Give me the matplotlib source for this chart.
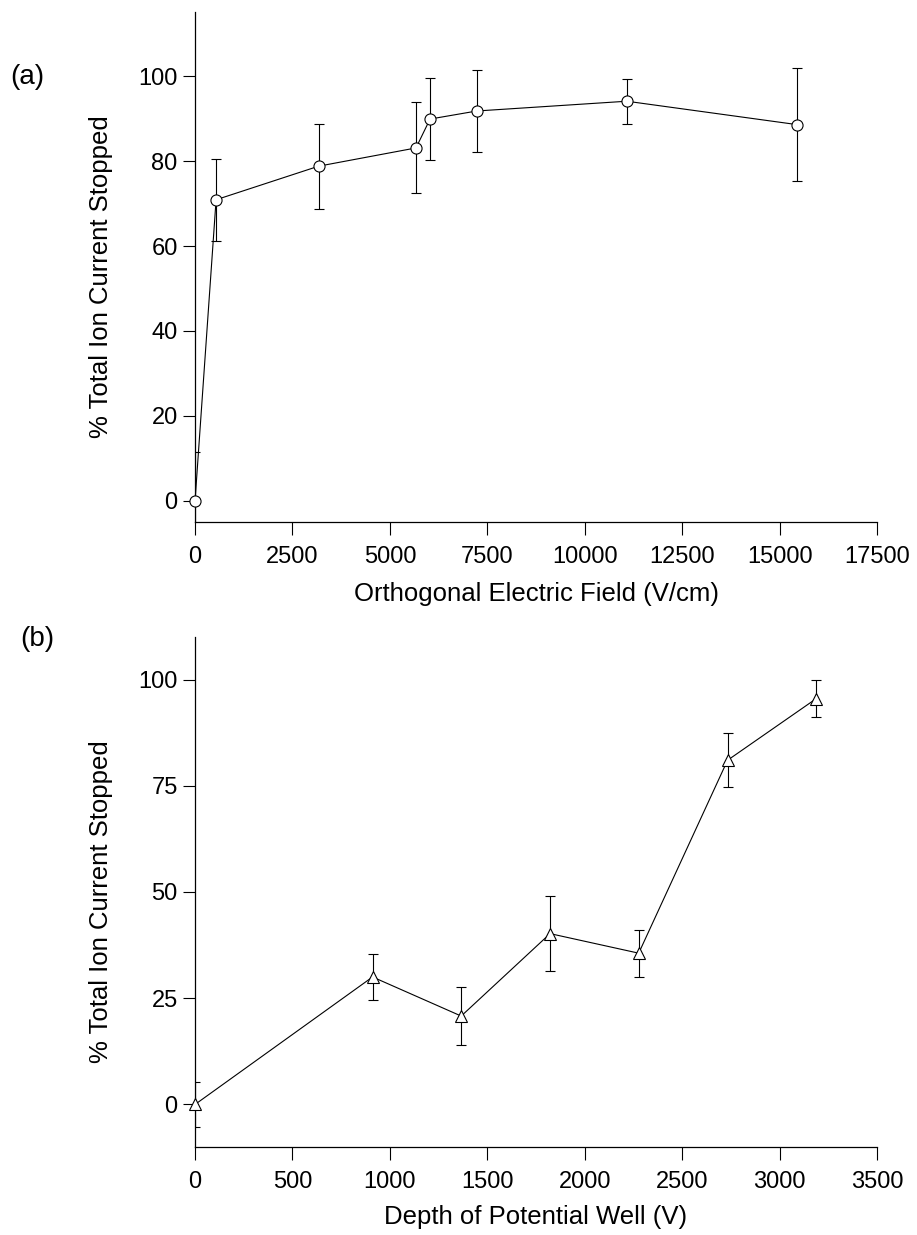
import matplotlib.pyplot as plt
import numpy as np

plt.rcParams['font.family'] = ['Liberation Sans', 'DejaVu Sans']

# panel (a): orthogonal electric field
field = [0, 540, 3170, 5670, 6030, 7230, 11080, 15440]
stopped_a = [0, 70.9, 78.8, 83.1, 89.9, 91.8, 94.1, 88.6]
err_a = [11.6, 9.7, 10.0, 10.7, 9.6, 9.7, 5.3, 13.3]

# panel (b): depth of potential well
depth = [0, 911, 1366, 1822, 2277, 2733, 3188]
stopped_b = [0, 30.0, 20.8, 40.2, 35.6, 81.0, 95.5]
err_b = [5.4, 5.5, 6.9, 8.9, 5.5, 6.4, 4.3]

fig = plt.figure(figsize=(9.17, 12.35), dpi=100)
ax1 = fig.add_axes([0.2127, 0.5773, 0.7437, 0.4126])
ax2 = fig.add_axes([0.2127, 0.0713, 0.7437, 0.4129])


def style(ax):
    for s in ['top', 'right']:
        ax.spines[s].set_visible(False)
    for s in ['left', 'bottom']:
        ax.spines[s].set_linewidth(0.9)
    ax.tick_params(direction='out', length=9, width=0.8, labelsize=17)
    ax.tick_params(axis='x', pad=8)
    ax.tick_params(axis='y', pad=3.5)
    # label sits a bit below the axis centre in the original
    ax.yaxis.label.set_y(0.482)


ax1.errorbar(field, stopped_a, yerr=err_a, fmt='none', ecolor='black',
             elinewidth=0.8, capsize=3.8, capthick=0.8)
ax1.plot(field, stopped_a, color='black', lw=0.8, marker='o', ms=8,
         mfc='white', mec='black', mew=0.8, clip_on=False, zorder=3)
ax1.set_xlim(0, 17500)
ax1.set_ylim(-5, 115)
ax1.set_xticks(np.arange(0, 17501, 2500))
ax1.set_yticks([0, 20, 40, 60, 80, 100])
ax1.set_xlabel('Orthogonal Electric Field (V/cm)', fontsize=18.5, labelpad=10)
ax1.set_ylabel('% Total Ion Current Stopped', fontsize=18.5, labelpad=18)
style(ax1)

ax2.errorbar(depth, stopped_b, yerr=err_b, fmt='none', ecolor='black',
             elinewidth=0.8, capsize=3.8, capthick=0.8)
ax2.plot(depth, stopped_b, color='black', lw=0.8, marker='^', ms=8,
         mfc='white', mec='black', mew=0.8, clip_on=False, zorder=3)
ax2.set_xlim(0, 3500)
ax2.set_ylim(-10, 110)
ax2.set_xticks(np.arange(0, 3501, 500))
ax2.set_yticks([0, 25, 50, 75, 100])
ax2.set_xlabel('Depth of Potential Well (V)', fontsize=18.5, labelpad=9)
ax2.set_ylabel('% Total Ion Current Stopped', fontsize=18.5, labelpad=18)
style(ax2)

fig.text(10 / 917, 1 - 84 / 1235, '(a)', fontsize=20, va='baseline', ha='left')
fig.text(20 / 917, 1 - 646 / 1235, '(b)', fontsize=20, va='baseline', ha='left')

fig.savefig('out.png', dpi=100)
